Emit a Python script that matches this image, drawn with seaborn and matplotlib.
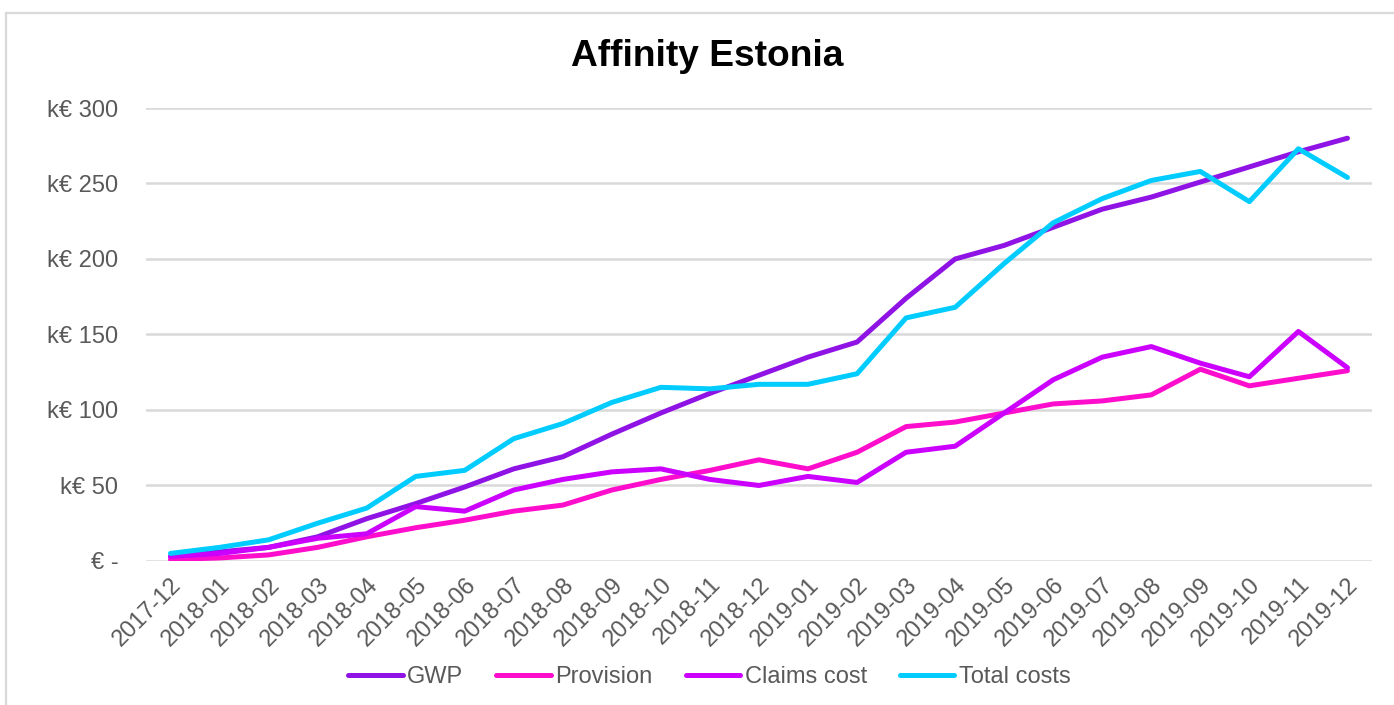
import numpy as np
import pandas as pd
import matplotlib
matplotlib.use("Agg")
import matplotlib.pyplot as plt
from matplotlib.patches import Rectangle
from matplotlib.lines import Line2D
import seaborn as sns

sns.set_theme(style="white")
plt.rcParams['font.family'] = ['Liberation Sans', 'DejaVu Sans']

# ─── Data (k€) ──────────────────────────────────────────────────────────────
months = ['2017-12', '2018-01', '2018-02', '2018-03', '2018-04', '2018-05',
          '2018-06', '2018-07', '2018-08', '2018-09', '2018-10', '2018-11',
          '2018-12', '2019-01', '2019-02', '2019-03', '2019-04', '2019-05',
          '2019-06', '2019-07', '2019-08', '2019-09', '2019-10', '2019-11',
          '2019-12']

gwp = [3, 6, 9, 16, 28, 38, 49, 61, 69, 84, 98, 111,
       123, 135, 145, 174, 200, 209, 221, 233, 241, 251, 261, 271, 280]
provision = [1, 2, 4, 9, 16, 22, 27, 33, 37, 47, 54, 60,
             67, 61, 72, 89, 92, 98, 104, 106, 110, 127, 116, 121, 126]
claims_cost = [3, 5, 9, 15, 18, 36, 33, 47, 54, 59, 61, 54,
               50, 56, 52, 72, 76, 98, 120, 135, 142, 131, 122, 152, 128]
total_costs = [5, 9, 14, 25, 35, 56, 60, 81, 91, 105, 115, 114,
               117, 117, 124, 161, 168, 197, 224, 240, 252, 258, 238, 273, 254]

series_names = ['GWP', 'Provision', 'Claims cost', 'Total costs']
colors = ['#9013E6', '#FF0DCC', '#CC00FF', '#00CCFF']

df = pd.DataFrame({
    'idx': np.tile(np.arange(len(months)), 4),
    'value': gwp + provision + claims_cost + total_costs,
    'series': np.repeat(series_names, len(months)),
})

# ─── Plot ───────────────────────────────────────────────────────────────────
fig = plt.figure(figsize=(13.94, 7.05), dpi=100)
ax = fig.add_axes([0.1047, 0.2043, 0.8795, 0.6425])

sns.lineplot(data=df, x='idx', y='value', hue='series',
             hue_order=series_names, palette=colors, linewidth=3.6,
             ax=ax, legend=False, solid_capstyle='round')

ax.set_xlim(-0.5, len(months) - 0.5)
ax.set_ylim(0, 300)
ax.set_yticks(range(0, 301, 50))
ax.set_yticklabels(['€ -' if v == 0 else f'k€ {v}' for v in range(0, 301, 50)])
ax.set_xticks(range(len(months)))
ax.set_xticklabels(months, rotation=45, ha='right', rotation_mode='anchor')

ax.grid(axis='y', color='#d9d9d9', linewidth=1.8)
ax.set_axisbelow(True)
for s in ax.spines.values():
    s.set_visible(False)
ax.set_xlabel('')
ax.set_ylabel('')
ax.tick_params(axis='both', length=0, labelsize=17, colors='#595959')
ax.tick_params(axis='y', pad=20)
ax.tick_params(axis='x', pad=9)

fig.text(707 / 1394, 1 - 57 / 705, 'Affinity Estonia', fontsize=26.7,
         fontweight='bold', ha='center', va='center', color='black')

handles = [Line2D([], [], color=c, linewidth=3.6, solid_capstyle='round')
           for c in colors]
fig.legend(handles, series_names, loc='center', bbox_to_anchor=(0.509, 0.04),
           ncol=4, frameon=False, fontsize=17, handlelength=2.3,
           handletextpad=0.2, columnspacing=1.4, labelcolor='#595959')

# outer chart border
fig.patches.append(Rectangle((6 / 1394, -0.05), 1.1, 1 - 13 / 705 + 0.05,
                             transform=fig.transFigure, fill=False,
                             edgecolor='#d9d9d9', linewidth=1.6))

plt.savefig('out.png', dpi=100)
